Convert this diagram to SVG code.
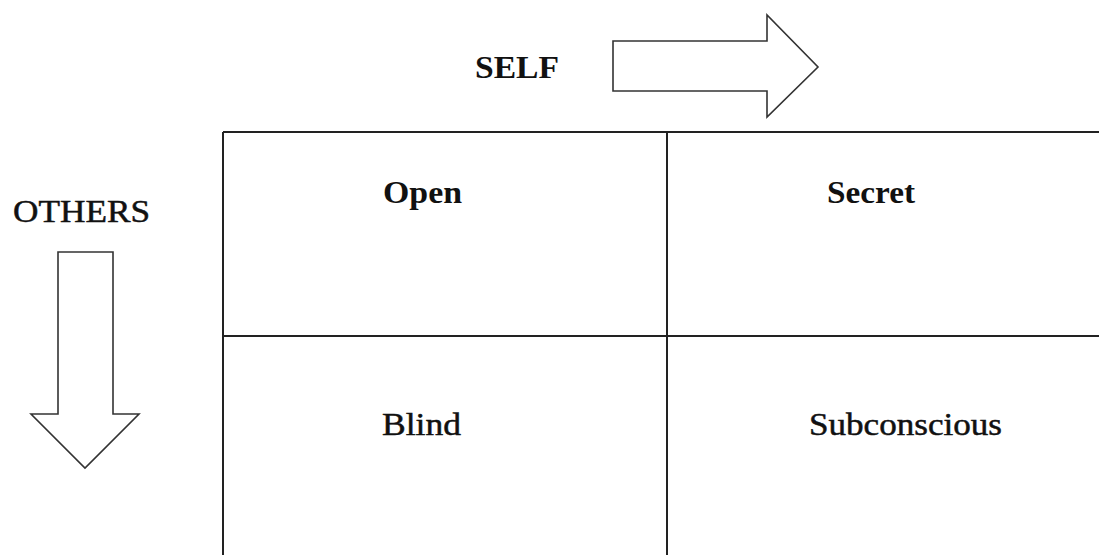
<svg xmlns="http://www.w3.org/2000/svg" width="1099" height="555" viewBox="0 0 1099 555">
<style>
.t{font-family:"Liberation Serif","Times New Roman",serif;font-size:32px;fill:#111}
.b{font-weight:bold}
.m{stroke:#111;stroke-width:0.5}
.ln{stroke:#222;stroke-width:2;fill:none}
.ar{stroke:#333;stroke-width:1.6;fill:#fff;stroke-linejoin:miter}
</style>
<rect width="1099" height="555" fill="#fff"/>
<g id="grid">
<line class="ln" x1="223" y1="132" x2="1099" y2="132"/>
<line class="ln" x1="223" y1="132" x2="223" y2="555"/>
<line class="ln" x1="667" y1="132" x2="667" y2="555"/>
<line class="ln" x1="223" y1="336" x2="1099" y2="336"/>
</g>
<g id="self">
<text class="t b" x="475" y="78" textLength="84" lengthAdjust="spacingAndGlyphs">SELF</text>
</g>
<g id="others">
<text class="t m" x="13" y="222" textLength="137" lengthAdjust="spacingAndGlyphs">OTHERS</text>
</g>
<g id="connectors">
<polygon class="ar" points="613,41 767,41 767,15 818,67 767,117 767,91 613,91"/>
<polygon class="ar" points="58,252 113,252 113,414 139,414 85,468 31,414 58,414"/>
</g>
<g id="open">
<text class="t b" x="383" y="203" textLength="79" lengthAdjust="spacingAndGlyphs">Open</text>
</g>
<g id="secret">
<text class="t b" x="827" y="203" textLength="88" lengthAdjust="spacingAndGlyphs">Secret</text>
</g>
<g id="blind">
<text class="t m" x="382" y="435" textLength="79" lengthAdjust="spacingAndGlyphs">Blind</text>
</g>
<g id="subconscious">
<text class="t m" x="809" y="435" textLength="193" lengthAdjust="spacingAndGlyphs">Subconscious</text>
</g>
</svg>
